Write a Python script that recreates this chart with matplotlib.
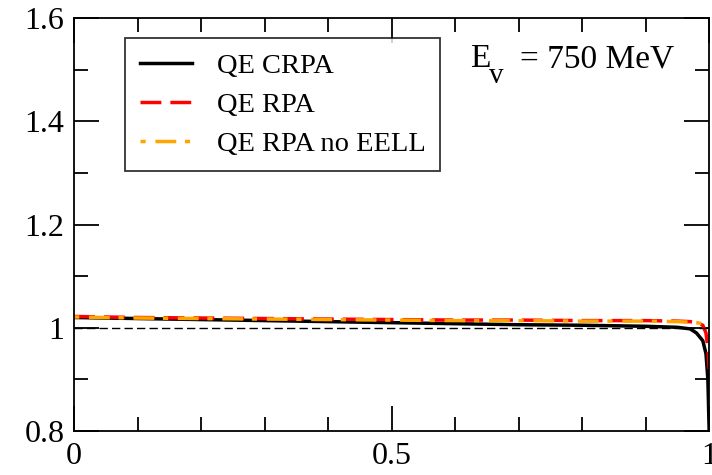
import numpy as np
import matplotlib.pyplot as plt
from matplotlib.ticker import MultipleLocator

plt.rcParams['font.family'] = ['Liberation Serif', 'DejaVu Serif']

# curves
x = [0.0, 0.1, 0.2, 0.3, 0.4, 0.5, 0.6, 0.7, 0.8, 0.9, 0.95, 0.97, 0.98, 0.99, 0.995, 0.998, 1.0]
qe_crpa = [1.020, 1.018, 1.016, 1.014, 1.012, 1.010, 1.008, 1.006, 1.005, 1.003, 1.001, 0.998,
           0.990, 0.975, 0.950, 0.900, 0.800]
qe_rpa = [1.022, 1.020, 1.019, 1.018, 1.017, 1.016, 1.015, 1.015, 1.014, 1.014, 1.013, 1.012,
          1.010, 1.005, 0.990, 0.960, 0.920]
qe_rpa_noeell = [1.021, 1.019, 1.018, 1.017, 1.016, 1.015, 1.014, 1.014, 1.013, 1.013, 1.012, 1.011,
                 1.010, 1.008, 1.006, 1.004, 1.000]

xticks = [0, 0.5, 1]
xticklabels = ['0', '0.5', '1']
yticks = [0.8, 1.0, 1.2, 1.4, 1.6]
yticklabels = ['0.8', '1', '1.2', '1.4', '1.6']

fig = plt.figure(figsize=(7.12, 4.75), dpi=100)
ax = fig.add_axes([0.104, 0.0926, 0.892, 0.869])

ax.plot(x, qe_crpa, color='black', lw=2.5, label='QE CRPA')
ax.plot(x, qe_rpa, color='red', lw=2.5, ls=(0, (6, 2.6)), label='QE RPA')
ax.plot(x, qe_rpa_noeell, color='orange', lw=2.5, ls=(8.5, (6, 2.5, 1.5, 2.8)),
        label='QE RPA no EELL')
ax.axhline(1.0, color='black', lw=1.0, ls=(0, (6, 3)))

ax.set_xlim(0, 1)
ax.set_ylim(0.8, 1.6)
ax.set_xticks(xticks)
ax.set_xticklabels(xticklabels)
ax.set_yticks(yticks)
ax.set_yticklabels(yticklabels)
ax.xaxis.set_minor_locator(MultipleLocator(0.1))
ax.yaxis.set_minor_locator(MultipleLocator(0.1))
ax.tick_params(which='both', direction='in', top=True, right=True, width=1.3,
               labelsize=23)
ax.tick_params(which='major', length=18)
ax.tick_params(which='minor', length=10)
ax.tick_params(axis='x', which='both', pad=8)
ax.tick_params(axis='y', which='both', pad=7)
for s in ax.spines.values():
    s.set_linewidth(1.3)

leg = ax.legend(loc='upper left', bbox_to_anchor=(0.081, 0.951), fontsize=20.5,
                frameon=True, fancybox=False, handlelength=1.85, handletextpad=0.85,
                borderpad=0.5, labelspacing=0.47, borderaxespad=0)
leg.get_frame().set_edgecolor('black')
leg.get_frame().set_linewidth(1.3)

# energy label: E with a large, low subscript v, as in the original
ax.text(0.624, 0.881, 'E', transform=ax.transAxes, fontsize=24, va='baseline')
ax.text(0.654, 0.842, 'v', transform=ax.transAxes, fontsize=21, va='baseline')
ax.text(0.702, 0.881, '= 750 MeV', transform=ax.transAxes, fontsize=24, va='baseline')

fig.savefig('out.png', dpi=100)
